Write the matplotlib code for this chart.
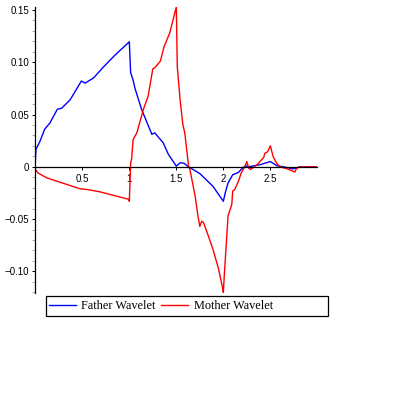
import matplotlib
matplotlib.use("Agg")
import matplotlib.pyplot as plt
from matplotlib.lines import Line2D
from matplotlib.patches import Rectangle

# Father (scaling) wavelet
father_x = [0, 0.007, 0.05, 0.10, 0.156, 0.234, 0.28, 0.37, 0.49, 0.53, 0.62,
            0.72, 0.85, 1.0, 1.014, 1.04, 1.06, 1.13, 1.24, 1.27, 1.36, 1.415,
            1.5, 1.54, 1.58, 1.63, 1.75, 1.89, 2.0, 2.02, 2.05, 2.1, 2.16,
            2.21, 2.24, 2.27, 2.39, 2.5, 2.57, 2.64, 2.74, 2.82, 3.0]
father_y = [0.005, 0.0166, 0.0245, 0.036, 0.042, 0.055, 0.056, 0.064, 0.082,
            0.080, 0.085, 0.095, 0.107, 0.1195, 0.09, 0.083, 0.075, 0.055,
            0.031, 0.0325, 0.023, 0.012, 0.0006, 0.0038, 0.0035, 0.0, -0.0065,
            -0.0187, -0.033, -0.025, -0.0155, -0.0076, -0.0054, -0.0006, 0.001,
            0.0, 0.002, 0.005, 0.001, 0.0, -0.002, 0.0, 0.0]

# Mother wavelet
mother_x = [0, 0.03, 0.12, 0.26, 0.475, 0.55, 0.69, 0.99, 1.0, 1.014, 1.025,
            1.04, 1.08, 1.15, 1.2, 1.25, 1.27, 1.33, 1.37, 1.43, 1.5, 1.51,
            1.54, 1.57, 1.59, 1.63, 1.645, 1.70, 1.73, 1.75, 1.77, 1.79, 1.84,
            1.89, 1.95, 1.99, 2.0, 2.01, 2.03, 2.05, 2.09, 2.1, 2.12, 2.14,
            2.16, 2.19, 2.23, 2.25, 2.27, 2.29, 2.33, 2.37, 2.43, 2.44, 2.47,
            2.50, 2.53, 2.57, 2.6, 2.67, 2.76, 2.78, 2.81, 3.0]
mother_y = [-0.0025, -0.006, -0.0105, -0.0147, -0.021, -0.0217, -0.024,
            -0.031, -0.033, 0.0035, 0.008, 0.026, 0.0325, 0.055, 0.0675,
            0.0937, 0.0946, 0.101, 0.115, 0.128, 0.153, 0.096, 0.064, 0.04,
            0.0325, 0.0006, -0.0028, -0.028, -0.047, -0.057, -0.052, -0.0535,
            -0.066, -0.079, -0.098, -0.115, -0.12, -0.104, -0.0756, -0.047,
            -0.036, -0.023, -0.022, -0.018, -0.014, -0.006, 0.0003, 0.005,
            -0.0013, -0.0025, 0.0, 0.003, 0.009, 0.0127, 0.0143, 0.020, 0.0096,
            0.003, 0.0, -0.0016, -0.005, -0.0016, 0.0, 0.0]

x_ticks = [0.5, 1, 1.5, 2, 2.5]
x_labels = ["0.5", "1", "1.5", "2", "2.5"]
y_ticks = [-0.10, -0.05, 0, 0.05, 0.10, 0.15]
y_labels = ["\u22120.10", "\u22120.05", "0", "0.05", "0.10", "0.15"]
y_minor = [i / 100 for i in range(-12, 16)]

fig = plt.figure(figsize=(3.95, 3.95), dpi=100)
ax = fig.add_axes([0.0894, 0.2587, 0.714, 0.7228])

ax.plot(father_x, father_y, color="#0000ff", lw=1.0)
ax.plot(mother_x, mother_y, color="#ff0000", lw=1.0)

ax.set_xlim(0, 3.0)
ax.set_ylim(-0.1205, 0.1525)

for s in ("top", "right"):
    ax.spines[s].set_visible(False)
ax.spines["bottom"].set_position(("data", 0))
ax.spines["left"].set_linewidth(0.9)
ax.spines["bottom"].set_linewidth(0.9)

ax.set_xticks(x_ticks)
ax.set_xticklabels(x_labels)
ax.set_yticks(y_ticks)
ax.set_yticklabels(y_labels)
ax.set_yticks(y_minor, minor=True)

for lab in ax.get_xticklabels() + ax.get_yticklabels():
    lab.set_fontfamily("Liberation Sans")
    lab.set_fontsize(7)
ax.tick_params(axis="x", direction="out", length=2.2, width=0.7, pad=3)
ax.tick_params(axis="y", which="major", direction="out", length=2.5,
               width=0.7, pad=2)
ax.tick_params(axis="y", which="minor", direction="out", length=2,
               width=0.6, color="#999999")

# legend box below the plot, Maple style
fig.patches.append(Rectangle((46 / 395, 79 / 395), 282 / 395, 20 / 395,
                             transform=fig.transFigure, fill=False,
                             edgecolor="black", lw=0.9))
handles = [Line2D([], [], color="#0000ff", lw=1.0),
           Line2D([], [], color="#ff0000", lw=1.0)]
fig.legend(handles, ["Father Wavelet", "Mother Wavelet"],
           loc="center left", bbox_to_anchor=(49 / 395, 89 / 395),
           ncol=2, frameon=False, borderpad=0, borderaxespad=0,
           handlelength=2.2, handletextpad=0.45, columnspacing=0.45,
           prop={"family": "Liberation Serif", "size": 8.8})

fig.savefig("out.png", dpi=100)
